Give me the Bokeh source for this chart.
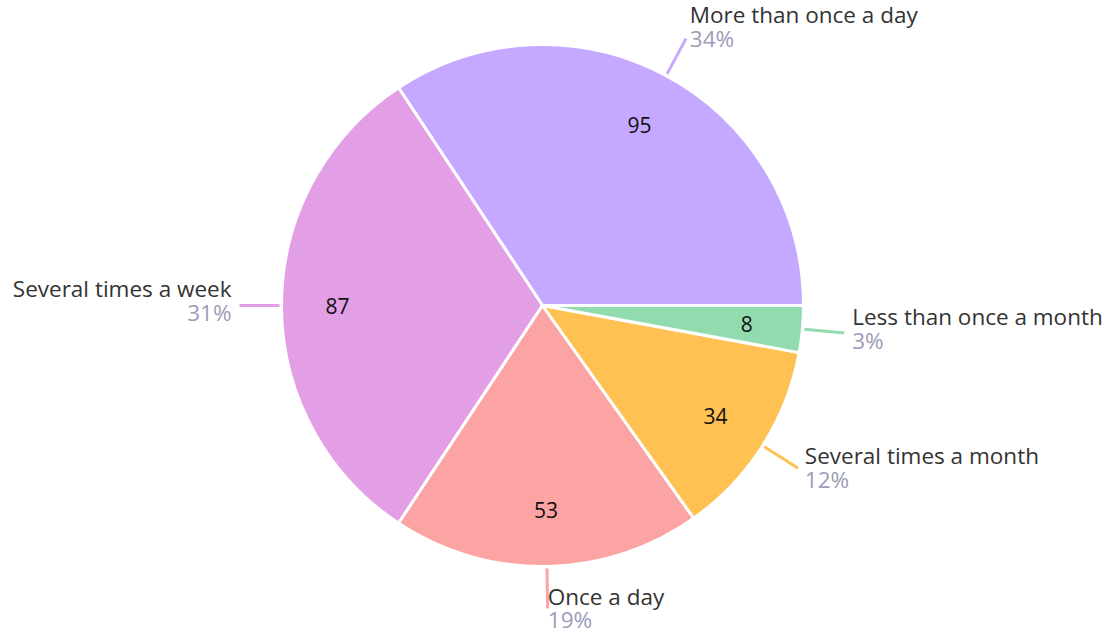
import math
from bokeh.plotting import figure
from bokeh.models import ColumnDataSource
from bokeh.core.properties import value
from bokeh.embed import file_html
from bokeh.resources import INLINE

categories = ["More than once a day", "Several times a week", "Once a day",
              "Several times a month", "Less than once a month"]
counts = [95, 87, 53, 34, 8]
colors = ["#C5A8FF", "#E29FE5", "#FCA3A3", "#FFC152", "#92DBAE"]

W, H = 1106, 635
cx, cy, R = 542, 330, 261
FONT = "Open Sans"

total = sum(counts)
starts, ends, mids = [], [], []
acc = 0.0
for c in counts:
    a0 = acc / total * 2 * math.pi
    acc += c
    a1 = acc / total * 2 * math.pi
    starts.append(a0); ends.append(a1); mids.append((a0 + a1) / 2)

p = figure(width=W, height=H, x_range=(0, W), y_range=(0, H),
           x_axis_type=None, y_axis_type=None, toolbar_location=None,
           output_backend="svg", min_border=0)
p.grid.visible = False
p.outline_line_color = None

src = ColumnDataSource(dict(start=starts, end=ends, color=colors))
p.wedge(x=cx, y=cy, radius=R, start_angle="start", end_angle="end",
        fill_color="color", line_color="white", line_width=3, source=src)

# inner value labels
vx = [cx + 205 * math.cos(m) for m in mids]
vy = [cy + 205 * math.sin(m) for m in mids]
p.text(x=vx, y=vy, text=[str(c) for c in counts], text_align="center",
       text_baseline="middle", text_font=value(FONT), text_font_size="21px",
       text_color="#111111")

# leader lines + outer labels
for cat, c, col, m in zip(categories, counts, colors, mids):
    ca, sa = math.cos(m), math.sin(m)
    x0, y0 = cx + (R + 2) * ca, cy + (R + 2) * sa
    x1, y1 = cx + (R + 42) * ca, cy + (R + 42) * sa
    p.line([x0, x1], [y0, y1], line_color=col, line_width=3)
    by = max(y1 + 5 + 8 * sa, 27.5)
    if ca >= -0.05:
        tx, align = x1 + 8 * abs(ca), "left"
    else:
        tx, align = x1 - 8 * abs(ca), "right"
    pct = f"{round(100 * c / total)}%"
    p.text(x=[tx], y=[by + 12], text=[cat], text_align=align,
           text_baseline="middle", text_font=value(FONT),
           text_font_size="22.5px", text_color="#333333")
    p.text(x=[tx], y=[by - 11.5], text=[pct], text_align=align,
           text_baseline="middle", text_font=value(FONT),
           text_font_size="22.5px", text_color="#9C9CB8")

open("out.html", "w").write(file_html(p, INLINE))
